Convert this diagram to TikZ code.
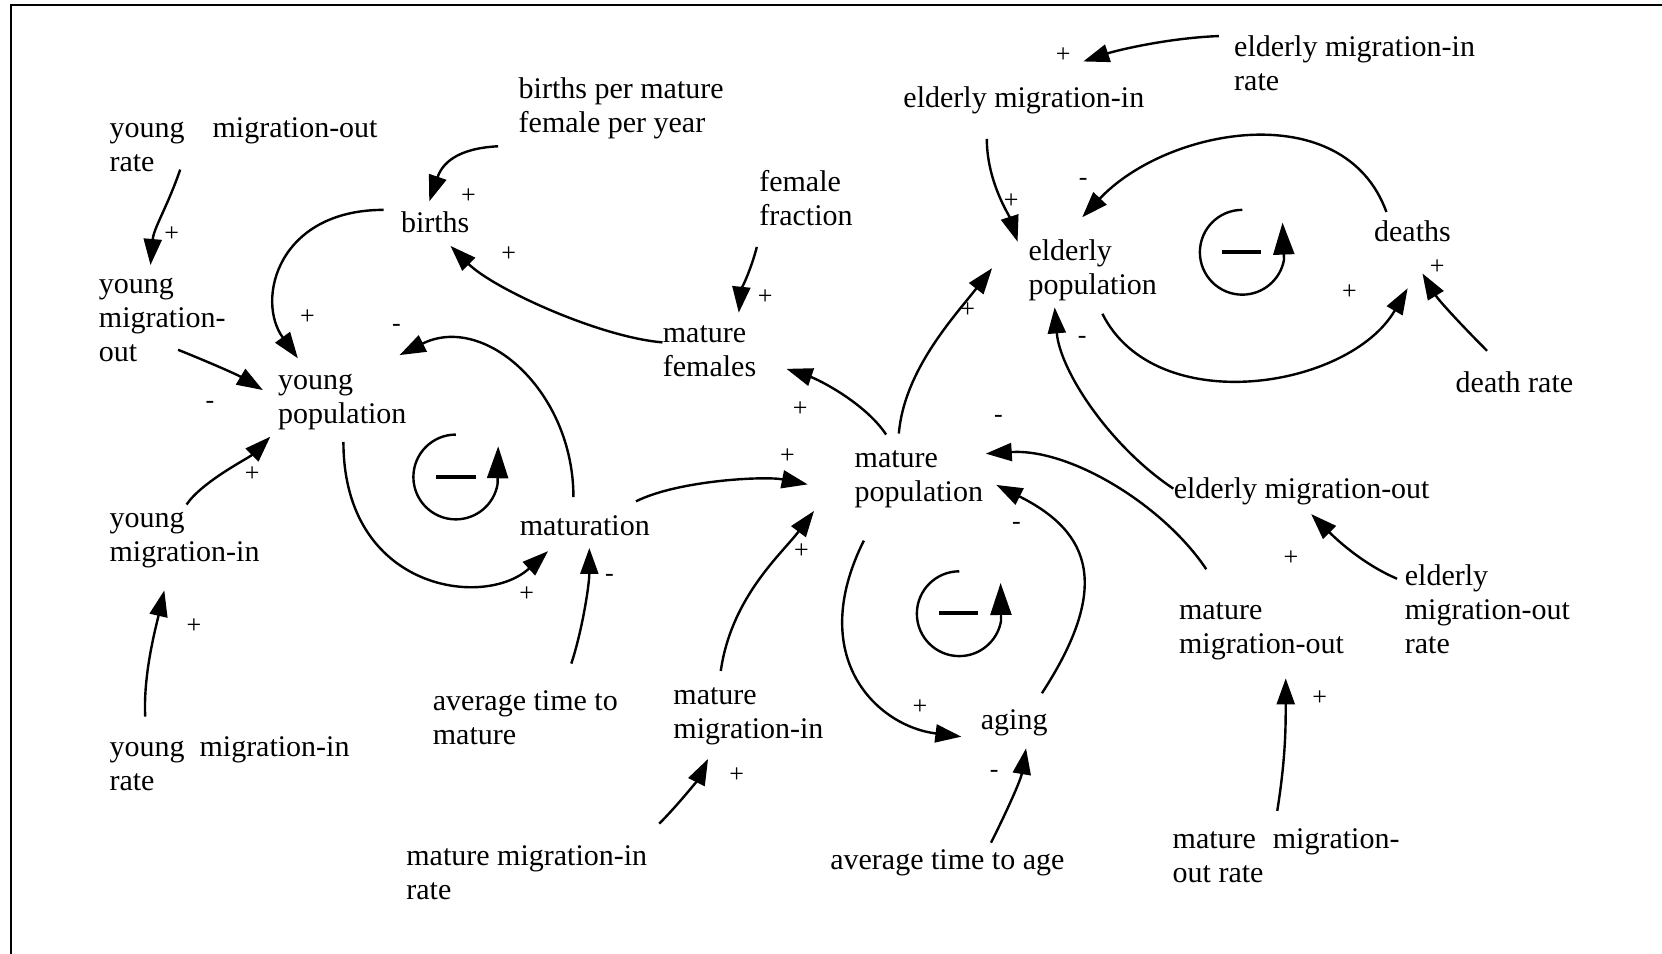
\documentclass[tikz,border=0pt]{standalone}
\usepackage{fontspec}
\setmainfont{Liberation Serif}
\usetikzlibrary{arrows.meta}
% left-aligned multi-line label whose baseline is the first line
\newcommand{\ml}[1]{\begin{tabular}[t]{@{}l@{}}#1\end{tabular}}
\begin{document}
\begin{tikzpicture}[x=0.53pt,y=0.53pt,
  lbl/.style={anchor=base west,inner sep=0pt,font=\fontsize{15}{17}\selectfont},
  sgn/.style={inner sep=0pt,font=\fontsize{13}{15}\selectfont},
  arr/.style={line width=1.2pt,-{Triangle[length=13pt,width=9pt]}},
  loopline/.style={line width=1.2pt,-{Triangle[length=16pt,width=10.5pt]}},
  loopbar/.style={line width=2pt},
  frame/.style={line width=1pt}]
\useasboundingbox (0,0) rectangle (1568,900);

% frame
\draw[frame] (10,0) -- (10,895) -- (1568,895);

% variables
\node[lbl] (ymor) at (103,770.5) {\ml{\makebox[134pt][s]{young migration-out}\\rate}};
\node[lbl] (bpm)  at (489,807.5) {\ml{births per mature\\female per year}};
\node[lbl] (emi)  at (852,798.5) {elderly migration-in};
\node[lbl] (emir) at (1164,846.5) {\ml{elderly migration-in\\rate}};
\node[lbl] (ff)   at (716,719.5) {\ml{female\\fraction}};
\node[lbl] (births) at (378,680.5) {births};
\node[lbl] (ep)   at (970,654.5) {\ml{elderly\\population}};
\node[lbl] (deaths) at (1296,672.5) {deaths};
\node[lbl] (ymo)  at (93,623.5) {\ml{young\\migration-\\out}};
\node[lbl] (mf)   at (625,576.5) {\ml{mature\\females}};
\node[lbl] (yp)   at (262,532.5) {\ml{young\\population}};
\node[lbl] (dr)   at (1373,529.5) {death rate};
\node[lbl] (mp)   at (806,458.5) {\ml{mature\\population}};
\node[lbl] (emo)  at (1107,429.5) {elderly migration-out};
\node[lbl] (ymi)  at (103,402.5) {\ml{young\\migration-in}};
\node[lbl] (mat)  at (490,394.5) {maturation};
\node[lbl] (emor) at (1325,347.5) {\ml{elderly\\migration-out\\rate}};
\node[lbl] (mmo)  at (1112,315.5) {\ml{mature\\migration-out}};
\node[lbl] (attm) at (408,229.5) {\ml{average time to\\mature}};
\node[lbl] (mmi)  at (635,235.5) {\ml{mature\\migration-in}};
\node[lbl] (aging) at (925,211.5) {aging};
\node[lbl] (ymir) at (103,186.5) {\ml{\makebox[120pt][s]{young migration-in}\\rate}};
\node[lbl] (mmir) at (383,83.5) {\ml{mature migration-in\\rate}};
\node[lbl] (atta) at (783,79.5) {average time to age};
\node[lbl] (mmor) at (1106,99.5) {\ml{\makebox[113.4pt][s]{mature migration-}\\out rate}};

% causal links
\draw[arr] ([shift={(67,-30.5)}]ymor.base west) .. controls +(-12,-35) and +(3,35) .. ([shift={(49,26.5)}]ymo.base west);
\draw[arr] ([shift={(-19,-45.5)}]bpm.base west) .. controls +(-40,-2) and +(12,35) .. ([shift={(27,29.5)}]births.base west);
\draw[arr] ([shift={(-16,21.5)}]births.base west) .. controls +(-100,0) and +(-40,55) .. ([shift={(19,29.5)}]yp.base west);
\draw[arr] ([shift={(0,0.5)}]mf.base west) .. controls +(-60,5) and +(40,-40) .. ([shift={(47,-12.5)}]births.base west);
\draw[arr] ([shift={(-2,-52.5)}]ff.base west) .. controls +(-5,-20) and +(2,20) .. ([shift={(72,28.5)}]mf.base west);
\draw[arr] ([shift={(75,-53.5)}]ymo.base west) .. controls +(25,-10) and +(-25,15) .. ([shift={(-14,-0.5)}]yp.base west);
\draw[arr] ([shift={(73,21.5)}]ymi.base west) .. controls +(15,22) and +(-20,-20) .. ([shift={(-7,-44.5)}]yp.base west);
\draw[arr] ([shift={(34,37.5)}]ymir.base west) .. controls +(-2,40) and +(-8,-35) .. ([shift={(52,-59.5)}]ymi.base west);
\draw[arr] ([shift={(51,36.5)}]mat.base west) .. controls +(0,100) and +(80,40) .. ([shift={(115,32.5)}]yp.base west);
\draw[arr] ([shift={(62,-49.5)}]yp.base west) .. controls +(0,-140) and +(-60,-55) .. ([shift={(27,-14.5)}]mat.base west);
\draw[arr] ([shift={(131,44.5)}]attm.base west) .. controls +(10,30) and +(0,-35) .. ([shift={(66,-11.5)}]mat.base west);
\draw[arr] ([shift={(110,32.5)}]mat.base west) .. controls +(40,20) and +(-40,8) .. ([shift={(-44,-15.5)}]mp.base west);
\draw[arr] ([shift={(45,31.5)}]mmi.base west) .. controls +(10,70) and +(-30,-40) .. ([shift={(-38,-40.5)}]mp.base west);
\draw[arr] ([shift={(239,39.5)}]mmir.base west) .. controls +(18,18) and +(-10,-20) .. ([shift={(33,-51.5)}]mmi.base west);
\draw[arr] ([shift={(30,31.5)}]mp.base west) .. controls +(-20,30) and +(30,-10) .. ([shift={(117,-24.5)}]mf.base west);
\draw[arr] ([shift={(42,32.5)}]mp.base west) .. controls +(5,60) and +(-35,-45) .. ([shift={(-34,-7.5)}]ep.base west);
\draw[arr] ([shift={(9,-68.5)}]mp.base west) .. controls +(-55,-110) and +(-80,10) .. ([shift={(-18,-6.5)}]aging.base west);
\draw[arr] ([shift={(58,34.5)}]aging.base west) .. controls +(65,100) and +(90,-45) .. ([shift={(134,-16)}]mp.base west);
\draw[arr] ([shift={(152,25.5)}]atta.base west) .. controls +(15,30) and +(-5,-30) .. ([shift={(43,-17.5)}]aging.base west);
\draw[arr] ([shift={(26,47.5)}]mmo.base west) .. controls +(-40,60) and +(80,5) .. ([shift={(124,13.5)}]mp.base west);
\draw[arr] ([shift={(0,9.5)}]emo.base west) .. controls +(-60,40) and +(5,-60) .. ([shift={(25,-44.5)}]ep.base west);
\draw[arr] ([shift={(-7,6.5)}]emor.base west) .. controls +(-35,15) and +(20,-20) .. ([shift={(130,-14.5)}]emo.base west);
\draw[arr] ([shift={(99,35.5)}]mmor.base west) .. controls +(8,50) and +(0,-45) .. ([shift={(101,-55.5)}]mmo.base west);
\draw[arr] ([shift={(-14,19.5)}]emir.base west) .. controls +(-50,-2) and +(30,10) .. ([shift={(170,43.5)}]emi.base west);
\draw[arr] ([shift={(79,-29.5)}]emi.base west) .. controls +(0,-40) and +(-8,25) .. ([shift={(-10,17.5)}]ep.base west);
\draw[arr] ([shift={(12,27.5)}]deaths.base west) .. controls +(-40,110) and +(80,85) .. ([shift={(51,40.5)}]ep.base west);
\draw[arr] ([shift={(70,-50.5)}]ep.base west) .. controls +(50,-100) and +(-55,-95) .. ([shift={(32,-44.5)}]deaths.base west);
\draw[arr] ([shift={(30,39.5)}]dr.base west) .. controls +(-25,25) and +(15,-25) .. ([shift={(46,-30.5)}]deaths.base west);

% link polarities
\node[sgn] (s1)  at (162,679) {+};
\node[sgn] (s2)  at (442,715) {+};
\node[sgn] (s3)  at (290,601) {+};
\node[sgn] (s4)  at (480,660) {+};
\node[sgn] (s5)  at (722,620) {+};
\node[sgn] (s6)  at (198,518) {-};
\node[sgn] (s7)  at (238,453) {+};
\node[sgn] (s8)  at (183,309) {+};
\node[sgn] (s9)  at (374,591) {-};
\node[sgn] (s10) at (497,339) {+};
\node[sgn] (s11) at (575,355) {-};
\node[sgn] (s12) at (743,470) {+};
\node[sgn] (s13) at (756,380) {+};
\node[sgn] (s14) at (695,169) {+};
\node[sgn] (s15) at (755,514) {+};
\node[sgn] (s16) at (913,607) {+};
\node[sgn] (s17) at (868,233) {+};
\node[sgn] (s18) at (959,404) {-};
\node[sgn] (s19) at (938,170) {-};
\node[sgn] (s20) at (942,505) {-};
\node[sgn] (s21) at (1021,579) {-};
\node[sgn] (s22) at (1218,373) {+};
\node[sgn] (s23) at (1245,241) {+};
\node[sgn] (s24) at (1003,848) {+};
\node[sgn] (s25) at (954,710) {+};
\node[sgn] (s26) at (1022,728) {-};
\node[sgn] (s27) at (1273,624) {+};
\node[sgn] (s28) at (1356,648) {+};

% balancing loop markers
\draw[loopline] (430,490) arc[start angle=90,end angle=350,radius=40] -- (470,479);
\draw[loopbar] (411,450) -- (449,450);
\draw[loopline] (905,361) arc[start angle=90,end angle=350,radius=40] -- (944,350);
\draw[loopbar] (886,322) -- (923,322);
\draw[loopline] (1172,702) arc[start angle=90,end angle=350,radius=40] -- (1210,690);
\draw[loopbar] (1153,662) -- (1190,662);
\end{tikzpicture}
\end{document}
